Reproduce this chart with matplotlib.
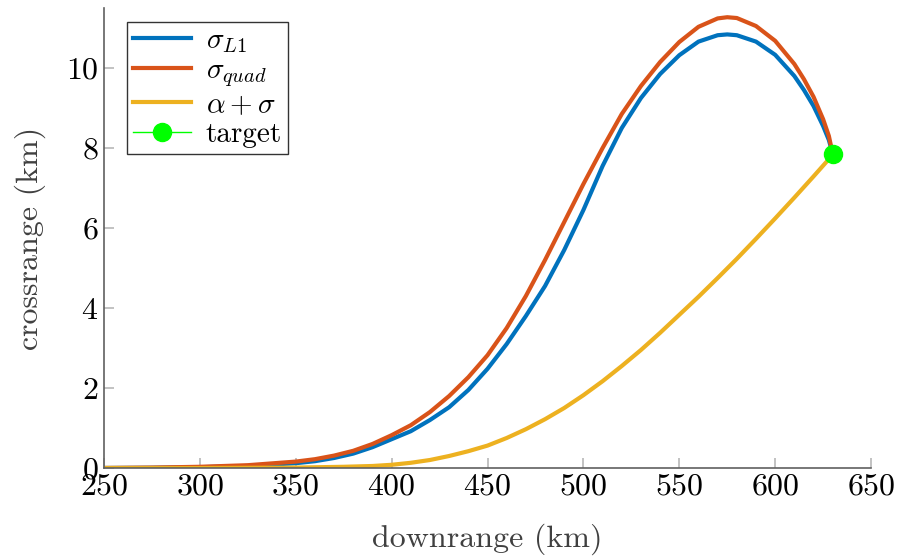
import numpy as np
import matplotlib
matplotlib.use("Agg")
import matplotlib.pyplot as plt

plt.rcParams['font.family'] = 'cmr10'
plt.rcParams['mathtext.fontset'] = 'cm'
plt.rcParams['axes.formatter.use_mathtext'] = True

# downrange / crossrange in km
x_quad = [250, 275, 300, 325, 350, 360, 370, 380, 390, 400, 410, 420, 430, 440, 450,
          460, 470, 480, 490, 500, 510, 520, 530, 540, 550, 560, 570, 575, 580, 590,
          600, 610, 615, 620, 625, 628, 630]
y_quad = [0.0, 0.01, 0.03, 0.07, 0.16, 0.22, 0.31, 0.43, 0.6, 0.82, 1.07, 1.4, 1.8, 2.27, 2.82,
          3.5, 4.3, 5.2, 6.15, 7.1, 8.0, 8.85, 9.55, 10.15, 10.65, 11.03, 11.24, 11.27, 11.25, 11.05,
          10.68, 10.1, 9.72, 9.28, 8.72, 8.3, 7.85]

x_l1 = [250, 275, 300, 325, 350, 360, 370, 380, 390, 400, 410, 420, 430, 440, 450,
        460, 470, 480, 490, 500, 510, 520, 530, 540, 550, 560, 570, 575, 580, 590,
        600, 610, 615, 620, 625, 628, 630]
y_l1 = [0.0, 0.005, 0.02, 0.05, 0.12, 0.17, 0.25, 0.36, 0.52, 0.72, 0.92, 1.2, 1.52, 1.95, 2.48,
        3.1, 3.8, 4.55, 5.45, 6.45, 7.55, 8.5, 9.25, 9.85, 10.32, 10.66, 10.82, 10.84, 10.82, 10.66,
        10.33, 9.8, 9.45, 9.05, 8.55, 8.2, 7.85]

x_as = [250, 300, 325, 350, 375, 390, 400, 410, 420, 430, 440, 450, 460, 470, 480, 490,
        500, 510, 520, 530, 540, 550, 560, 570, 580, 590, 600, 610, 620, 630]
y_as = [0.0, 0.0, 0.005, 0.01, 0.03, 0.05, 0.08, 0.13, 0.2, 0.3, 0.42, 0.56, 0.75, 0.97, 1.22, 1.5,
        1.82, 2.17, 2.55, 2.95, 3.38, 3.83, 4.28, 4.75, 5.23, 5.73, 6.24, 6.76, 7.29, 7.83]

target_x = [630]
target_y = [7.84]

fig = plt.figure(figsize=(8.98, 5.57), dpi=100)
ax = fig.add_axes([0.1158, 0.1598, 0.8542, 0.8258])

ax.plot(x_l1, y_l1, color='#0072BD', lw=3, label=r'$\sigma_{L1}$', solid_joinstyle='round')
ax.plot(x_quad, y_quad, color='#D95319', lw=3, label=r'$\sigma_{quad}$', solid_joinstyle='round')
ax.plot(x_as, y_as, color='#EDB120', lw=3, label=r'$\alpha+\sigma$', solid_joinstyle='round')
ax.plot(target_x, target_y, color='#00FF00', lw=1, marker='o', markersize=13,
        label='target', zorder=5)

ax.set_xlim(250, 650)
ax.set_ylim(0, 11.5)
ax.set_xticks(np.arange(250, 651, 50))
ax.set_yticks(np.arange(0, 11, 2))

for s in ['top', 'right']:
    ax.spines[s].set_visible(False)
for s in ['left', 'bottom']:
    ax.spines[s].set_color('#606060')
    ax.spines[s].set_linewidth(1.2)

ax.tick_params(direction='in', length=7, width=1.2, color='#b8b8b8',
               labelsize=23, labelcolor='black', pad=4)

ax.set_xlabel('downrange (km)', fontsize=23, color='#404040', labelpad=16)
ax.set_ylabel('crossrange (km)', fontsize=23, color='#404040', labelpad=14)

leg = ax.legend(loc='upper left', bbox_to_anchor=(0.03, 0.97), fontsize=21,
                frameon=True, fancybox=False, handlelength=2.0, handletextpad=0.5,
                borderpad=0.2, labelspacing=0.1, borderaxespad=0)
leg.get_frame().set_edgecolor('black')
leg.get_frame().set_linewidth(1.0)

fig.savefig('out.png', dpi=100)
